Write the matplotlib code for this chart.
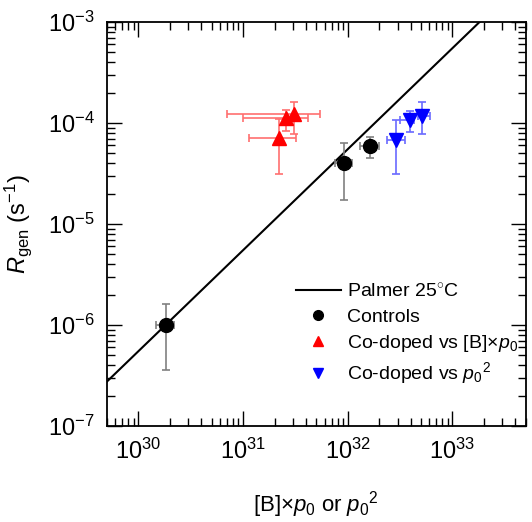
import numpy as np
import matplotlib
matplotlib.use("Agg")
import matplotlib.pyplot as plt
from matplotlib.lines import Line2D

plt.rcParams['font.family'] = ['Liberation Sans', 'DejaVu Sans']
plt.rcParams['mathtext.fontset'] = 'custom'
plt.rcParams['mathtext.rm'] = 'Liberation Sans'
plt.rcParams['mathtext.it'] = 'Liberation Sans:italic'
plt.rcParams['axes.unicode_minus'] = False

# Palmer 25C line: R = k * X
palmer_k = 5.5e-37
palmer_x = [5e29, 5e33]

# controls
ctrl_x = [1.83e30, 9.2e31, 1.63e32]
ctrl_xlo = [1.47e30, 7.5e31, 1.32e32]
ctrl_xhi = [2.19e30, 1.1e32, 2.0e32]
ctrl_y = [1.0e-6, 4.0e-5, 5.9e-5]
ctrl_ylo = [3.6e-7, 1.73e-5, 4.47e-5]
ctrl_yhi = [1.62e-6, 6.3e-5, 7.3e-5]

# co-doped vs [B]*p0
bp_x = [2.19e31, 2.59e31, 3.06e31]
bp_xlo = [1.13e31, 1.0e31, 6.95e30]
bp_xhi = [3.2e31, 4.17e31, 5.4e31]
bp_y = [7.05e-5, 1.11e-4, 1.22e-4]
bp_ylo = [3.1e-5, 8.4e-5, 7.8e-5]
bp_yhi = [1.1e-4, 1.35e-4, 1.6e-4]

# co-doped vs p0^2
pp_x = [2.89e32, 3.93e32, 5.1e32]
pp_xlo = [2.35e32, 3.16e32, 4.7e32]
pp_xhi = [3.55e32, 4.25e32, 6.1e32]
pp_y = [6.8e-5, 1.07e-4, 1.17e-4]
pp_ylo = [3.1e-5, 8.2e-5, 7.8e-5]
pp_yhi = [1.07e-4, 1.32e-4, 1.6e-4]

labels = [r'Palmer 25$^{\circ}$C', 'Controls',
          r'Co-doped vs [B]$\times p_0$', r'Co-doped vs $p_0{}^2$']


def errs(v, lo, hi):
    v = np.array(v)
    return [v - np.array(lo), np.array(hi) - v]


fig = plt.figure(figsize=(5.32, 5.22), dpi=100)
ax = fig.add_axes([0.201, 0.184, 0.787, 0.774])

px = np.array(palmer_x)
ax.plot(px, palmer_k * px, color='black', lw=1.5, zorder=2)

ax.errorbar(ctrl_x, ctrl_y, xerr=errs(ctrl_x, ctrl_xlo, ctrl_xhi),
            yerr=errs(ctrl_y, ctrl_ylo, ctrl_yhi), fmt='o', color='black',
            ms=10, ecolor='#808080', elinewidth=1.2, capsize=3, capthick=1.2,
            zorder=3)
ax.errorbar(bp_x, bp_y, xerr=errs(bp_x, bp_xlo, bp_xhi),
            yerr=errs(bp_y, bp_ylo, bp_yhi), fmt='^', color='red',
            ms=10, ecolor='#ff7070', elinewidth=1.2, capsize=3, capthick=1.2,
            zorder=3)
ax.errorbar(pp_x, pp_y, xerr=errs(pp_x, pp_xlo, pp_xhi),
            yerr=errs(pp_y, pp_ylo, pp_yhi), fmt='v', color='blue',
            ms=10, ecolor='#6a6aff', elinewidth=1.2, capsize=3, capthick=1.2,
            zorder=3)

ax.set_xscale('log')
ax.set_yscale('log')
ax.set_xlim(5e29, 5e33)
ax.set_ylim(1e-7, 1e-3)

for s in ax.spines.values():
    s.set_linewidth(1.3)
ax.tick_params(which='both', direction='in', top=True, right=True, width=1.0)
ax.tick_params(which='major', length=11, labelsize=17, pad=9)
ax.tick_params(which='minor', length=5.5)
ax.xaxis.set_minor_locator(matplotlib.ticker.LogLocator(base=10, subs=np.arange(2, 10)))
ax.yaxis.set_minor_locator(matplotlib.ticker.LogLocator(base=10, subs=np.arange(2, 10)))
ax.xaxis.set_minor_formatter(matplotlib.ticker.NullFormatter())
ax.yaxis.set_minor_formatter(matplotlib.ticker.NullFormatter())

ax.set_xlabel(r'[B]$\times p_0$ or $p_0{}^2$', fontsize=16, labelpad=18)
ax.set_ylabel(r'$R_{\mathrm{gen}}$ (s$^{-1}$)', fontsize=17, labelpad=10)

handles = [Line2D([], [], color='black', lw=1.5),
           Line2D([], [], color='black', marker='o', ls='none', ms=7),
           Line2D([], [], color='red', marker='^', ls='none', ms=7),
           Line2D([], [], color='blue', marker='v', ls='none', ms=7)]
ax.legend(handles, labels, loc='lower left', bbox_to_anchor=(0.41, 0.055),
          frameon=False, fontsize=14, handlelength=2.3, handletextpad=0.3,
          labelspacing=0.35)

fig.savefig('out.png', dpi=100)
